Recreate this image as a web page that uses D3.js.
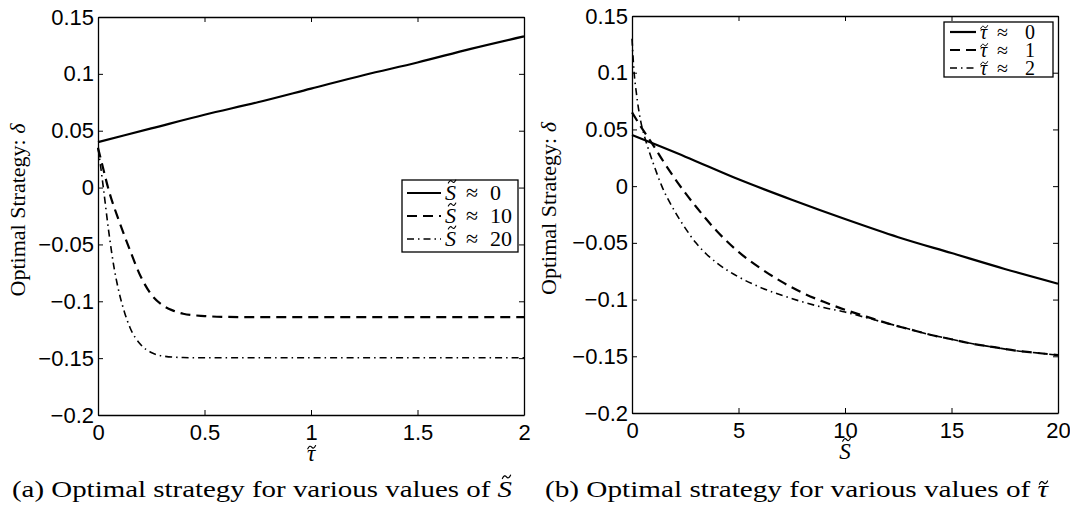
<!DOCTYPE html>
<html>
<head>
<meta charset="utf-8">
<script src="https://cdn.jsdelivr.net/npm/d3@7"></script>
<style>
  html, body { margin: 0; padding: 0; background: #fff; }
  svg { display: block; }
  .tick text { font-family: "Liberation Sans", Arial, Helvetica, sans-serif; font-size: 22px; fill: #000; }
  .serif { font-family: "Liberation Serif", "Times New Roman", serif; fill: #000; }
</style>
</head>
<body>
<svg id="fig" width="1070" height="509"></svg>
<script>
// ---- panel (a): optimal strategy delta vs tau for several S ----
const tauS0 = [0, 0.25, 0.5, 0.75, 1, 1.25, 1.5, 1.75, 2];
const deltaS0 = [0.040, 0.052, 0.064, 0.075, 0.087, 0.099, 0.110, 0.122, 0.133];

const tauS10 = [0, 0.02, 0.05, 0.1, 0.15, 0.2, 0.25, 0.3, 0.35, 0.4, 0.5, 0.6, 0.8, 1, 1.5, 2];
const deltaS10 = [0.035, 0.02, -0.002, -0.03, -0.055, -0.078, -0.094, -0.103, -0.108, -0.111, -0.113, -0.1137, -0.114, -0.114, -0.114, -0.114];

const tauS20 = [0, 0.01, 0.025, 0.05, 0.075, 0.1, 0.125, 0.15, 0.2, 0.25, 0.3, 0.4, 0.5, 1, 1.5, 2];
const deltaS20 = [0.035, 0.022, 0.0, -0.038, -0.07, -0.093, -0.11, -0.123, -0.138, -0.145, -0.148, -0.1495, -0.1497, -0.1497, -0.1497, -0.1497];

// ---- panel (b): optimal strategy delta vs S for several tau ----
const sTau0 = [0, 2.5, 5, 7.5, 10, 12.5, 15, 17.5, 20];
const deltaTau0 = [0.045, 0.026, 0.006, -0.012, -0.029, -0.045, -0.059, -0.073, -0.086];

const sTau1 = [0, 0.5, 1, 1.5, 2, 2.5, 3, 4, 5, 6, 7, 8, 9, 10, 11, 12, 13, 14, 15, 16, 17, 18, 19, 20];
const deltaTau1 = [0.065, 0.05, 0.036, 0.021, 0.007, -0.006, -0.018, -0.04, -0.058, -0.072, -0.084, -0.094, -0.102, -0.109, -0.115, -0.121, -0.126, -0.131, -0.135, -0.139, -0.142, -0.145, -0.147, -0.149];

const sTau2 = [0, 0.1, 0.2, 0.3, 0.4, 0.6, 0.8, 1, 1.4, 2, 2.5, 3, 3.5, 4, 5, 6, 7, 8, 9, 10, 11, 12, 13, 14, 15, 16, 17, 18, 19, 20];
const deltaTau2 = [0.13, 0.1, 0.083, 0.069, 0.058, 0.043, 0.031, 0.02, 0.0, -0.022, -0.037, -0.05, -0.06, -0.068, -0.08, -0.089, -0.096, -0.102, -0.107, -0.111, -0.116, -0.121, -0.126, -0.131, -0.135, -0.139, -0.142, -0.145, -0.147, -0.149];

// ---- ticks and labels ----
const yTicks = [-0.2, -0.15, -0.1, -0.05, 0, 0.05, 0.1, 0.15];
const yTickLabels = ["\u22120.2", "\u22120.15", "\u22120.1", "\u22120.05", "0", "0.05", "0.1", "0.15"];
const tauTicks = [0, 0.5, 1, 1.5, 2];
const tauTickLabels = ["0", "0.5", "1", "1.5", "2"];
const sTicks = [0, 5, 10, 15, 20];
const sTickLabels = ["0", "5", "10", "15", "20"];

const legendA = ["0", "10", "20"];   // values of S
const legendB = ["0", "1", "2"];     // values of tau

const svg = d3.select("#fig");
svg.append("rect").attr("width", 1070).attr("height", 509).attr("fill", "#fff");

const styles = [
  { dash: null, width: 2.2 },
  { dash: "10,6", width: 2.2 },
  { dash: "7,4,1.5,4", width: 1.6 }
];

const line = d3.line().curve(d3.curveMonotoneX);

// Tilde accent over character `idx` of a text element whose baseline is `base`.
// `height` is the accent's centre above the baseline, in em.
function addTilde(textSel, idx, fs, base, sym) {
  const ext = textSel.node().getExtentOfChar(idx);
  const cx = ext.x + ext.width / 2 + sym.shift * fs;
  const cy = base - sym.height * fs;
  const w = 0.34 * fs, h = 0.07 * fs;
  d3.select(textSel.node().parentNode).append("path")
    .attr("d", `M${cx - w / 2},${cy + h} Q${cx - w / 4},${cy - h * 1.6} ${cx},${cy} T${cx + w / 2},${cy - h}`)
    .attr("fill", "none").attr("stroke", "#000")
    .attr("stroke-width", 0.05 * fs).attr("stroke-linecap", "round");
}

function panel(opt) {
  const g = svg.append("g");
  const x = d3.scaleLinear().domain(opt.xDomain).range([opt.left, opt.right]);
  const y = d3.scaleLinear().domain([-0.2, 0.15]).range([opt.bottom, opt.top]);

  // curves
  opt.series.forEach((s, i) => {
    const pts = s.x.map((v, k) => [x(v), y(s.y[k])]);
    g.append("path")
      .attr("d", line(pts))
      .attr("fill", "none")
      .attr("stroke", "#000")
      .attr("stroke-width", styles[i].width)
      .attr("stroke-dasharray", styles[i].dash);
  });

  // axes: ticks point inward on all four sides
  const tick = 5;
  const bottomAxis = d3.axisBottom(x).tickValues(opt.xTicks)
    .tickFormat((d, i) => opt.xTickLabels[i]).tickSizeInner(-tick).tickSizeOuter(0).tickPadding(9);
  const leftAxis = d3.axisLeft(y).tickValues(yTicks)
    .tickFormat((d, i) => yTickLabels[i]).tickSizeInner(-tick).tickSizeOuter(0).tickPadding(4);
  const topAxis = d3.axisTop(x).tickValues(opt.xTicks).tickFormat("").tickSizeInner(-tick).tickSizeOuter(0);
  const rightAxis = d3.axisRight(y).tickValues(yTicks).tickFormat("").tickSizeInner(-tick).tickSizeOuter(0);

  const axes = [
    g.append("g").attr("transform", `translate(0,${opt.bottom})`).call(bottomAxis),
    g.append("g").attr("transform", `translate(${opt.left},0)`).call(leftAxis),
    g.append("g").attr("transform", `translate(0,${opt.top})`).call(topAxis),
    g.append("g").attr("transform", `translate(${opt.right},0)`).call(rightAxis)
  ];
  axes.forEach(a => {
    a.select(".domain").attr("stroke", "#000").attr("stroke-width", 1.3);
    a.selectAll(".tick line").attr("stroke", "#000").attr("stroke-width", 1);
    a.attr("font-family", null).attr("font-size", null);
  });
  g.selectAll(".tick text").attr("fill", "#000");

  // y axis title
  const yl = g.append("text").attr("class", "serif")
    .attr("transform", `translate(${opt.ylabelX},${(opt.top + opt.bottom) / 2 - 6}) rotate(-90)`)
    .attr("text-anchor", "middle").attr("font-size", 22);
  yl.append("tspan").text("Optimal Strategy:  ");
  yl.append("tspan").attr("font-style", "italic").text("\u03b4");

  // x axis title (symbol with tilde accent)
  const xfs = 23, xBase = opt.bottom + 46;
  const xl = g.append("text").attr("class", "serif")
    .attr("x", (opt.left + opt.right) / 2).attr("y", xBase)
    .attr("text-anchor", "middle").attr("font-size", xfs).attr("font-style", "italic")
    .text(opt.xSymbol.ch);
  addTilde(xl, 0, xfs, xBase, opt.xSymbol);

  // legend
  const L = opt.legend;
  g.append("rect").attr("x", L.x).attr("y", L.y).attr("width", L.w).attr("height", L.h)
    .attr("fill", "#fff").attr("stroke", "#000").attr("stroke-width", 1.3);
  L.labels.forEach((lab, i) => {
    const yy = L.y + L.first + i * L.step;
    const base = yy + 7;
    g.append("path")
      .attr("d", line([[L.x + L.lineX0, yy], [L.x + L.lineX1, yy]]))
      .attr("stroke", "#000").attr("fill", "none")
      .attr("stroke-width", styles[i].width)
      .attr("stroke-dasharray", styles[i].dash);
    const t = g.append("text").attr("class", "serif")
      .attr("x", L.x + L.textX).attr("y", base).attr("font-size", L.fs)
      .attr("font-style", "italic").text(opt.other.ch);
    addTilde(t, 0, L.fs, base, opt.other);
    g.append("text").attr("class", "serif")
      .attr("x", L.x + L.approxX).attr("y", base).attr("font-size", L.fs).text("\u2248");
    g.append("text").attr("class", "serif")
      .attr("x", L.x + L.valueX).attr("y", base).attr("font-size", L.fs).text(lab);
  });

  // caption
  const cfs = 24, cBase = 497;
  const c = g.append("text").attr("class", "serif")
    .attr("x", opt.capX).attr("y", cBase).attr("font-size", cfs)
    .attr("textLength", opt.capW).attr("lengthAdjust", "spacingAndGlyphs");
  c.append("tspan").text(opt.caption + " ");
  c.append("tspan").attr("font-style", "italic").text(opt.other.ch);
  addTilde(c, (opt.caption + " ").length, cfs, cBase, opt.other);
}

const symS = { ch: "S", height: 0.84, shift: 0.07 };
const symTau = { ch: "\u03c4", height: 0.6, shift: 0.03 };

panel({
  left: 98, right: 524, top: 17, bottom: 415,
  xDomain: [0, 2], xTicks: tauTicks, xTickLabels: tauTickLabels,
  xSymbol: symTau, other: symS,
  ylabelX: 25,
  series: [
    { x: tauS0, y: deltaS0 },
    { x: tauS10, y: deltaS10 },
    { x: tauS20, y: deltaS20 }
  ],
  legend: { x: 402, y: 180, w: 116, h: 72, first: 13, step: 23, lineX0: 5, lineX1: 39,
            textX: 43, approxX: 64, valueX: 88, fs: 22, labels: legendA },
  caption: "(a) Optimal strategy for various values of", capX: 12, capW: 500
});

panel({
  left: 632, right: 1058, top: 16, bottom: 413,
  xDomain: [0, 20], xTicks: sTicks, xTickLabels: sTickLabels,
  xSymbol: symS, other: symTau,
  ylabelX: 556,
  series: [
    { x: sTau0, y: deltaTau0 },
    { x: sTau1, y: deltaTau1 },
    { x: sTau2, y: deltaTau2 }
  ],
  legend: { x: 944, y: 22, w: 109, h: 55, first: 10, step: 18, lineX0: 6, lineX1: 32,
            textX: 36, approxX: 53, valueX: 81, fs: 20, labels: legendB },
  caption: "(b) Optimal strategy for various values of", capX: 545, capW: 503
});
</script>
</body>
</html>
